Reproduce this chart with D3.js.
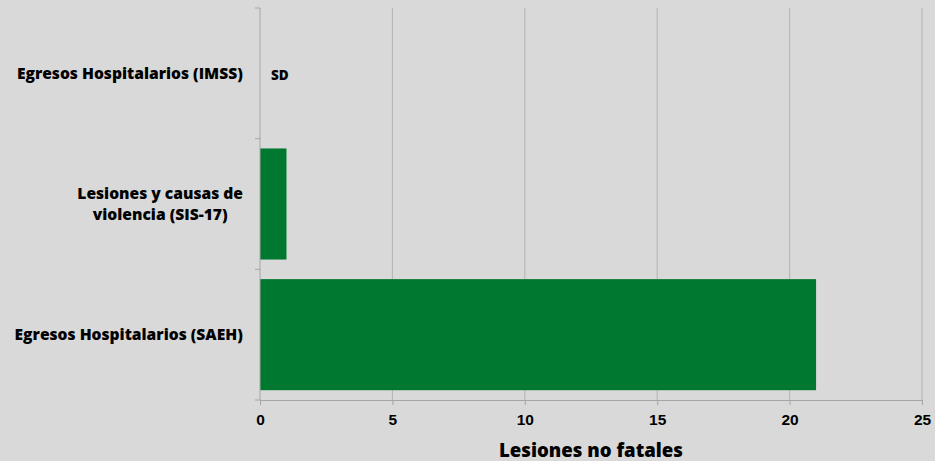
<!DOCTYPE html>
<html>
<head>
<meta charset="utf-8">
<script src="https://cdn.jsdelivr.net/npm/d3@7"></script>
<style>
  html, body { margin: 0; padding: 0; background: #d9d9d9; }
  svg { display: block; font-family: "Open Sans", "Noto Sans", sans-serif; font-weight: 800; }
  .tick text { fill: #000; }
</style>
</head>
<body>
<div id="chart"></div>
<script>
const categories = [
  ['Egresos Hospitalarios (IMSS)'],
  ['Lesiones y causas de', 'violencia (SIS-17)'],
  ['Egresos Hospitalarios (SAEH)']
];
const values = [null, 1, 21];
const xTicks = [0, 5, 10, 15, 20, 25];
const missingLabel = 'SD';
const axisTitle = 'Lesiones no fatales';

const width = 935, height = 461;
const margin = { top: 8, right: 13, bottom: 61, left: 260 };

const svg = d3.select('#chart').append('svg')
  .attr('width', width).attr('height', height);

svg.append('rect').attr('width', width).attr('height', height).attr('fill', '#d9d9d9');

const x = d3.scaleLinear().domain([0, 25]).range([margin.left, width - margin.right]);
const y = d3.scaleBand().domain(d3.range(categories.length))
  .range([margin.top, height - margin.bottom])
  .paddingInner(0.15).paddingOuter(0.075);

// gridlines
svg.append('g')
  .selectAll('line').data(xTicks.filter(t => t > 0)).join('line')
  .attr('x1', d => x(d)).attr('x2', d => x(d))
  .attr('y1', margin.top).attr('y2', height - margin.bottom)
  .attr('stroke', '#b3b3b3').attr('stroke-width', 1);

// bars
svg.append('g')
  .selectAll('rect').data(values.map((v, i) => ({ v, i })).filter(d => d.v != null)).join('rect')
  .attr('x', x(0))
  .attr('y', d => y(d.i))
  .attr('width', d => x(d.v) - x(0))
  .attr('height', y.bandwidth())
  .attr('fill', '#00782f');

// missing data label
values.forEach((v, i) => {
  if (v == null) {
    svg.append('text')
      .attr('x', x(0) + 11).attr('y', y(i) + y.bandwidth() / 2 + 2)
      .attr('dy', '0.35em')
      .attr('font-size', 13.5)
      .text(missingLabel);
  }
});

// x axis
const xAxis = svg.append('g')
  .attr('transform', `translate(0,${height - margin.bottom})`)
  .call(d3.axisBottom(x).tickValues(xTicks).tickSize(5).tickPadding(9).tickSizeOuter(0));
xAxis.select('.domain').attr('stroke', '#a6a6a6');
xAxis.selectAll('.tick line').attr('stroke', '#a6a6a6');
xAxis.selectAll('.tick text').attr('font-size', 15.5).attr('font-family', null);

// y axis (category separators)
const yEdges = d3.range(categories.length + 1).map(i => margin.top + i * (height - margin.bottom - margin.top) / categories.length);
const yAxisG = svg.append('g');
yAxisG.append('line')
  .attr('x1', x(0)).attr('x2', x(0))
  .attr('y1', margin.top).attr('y2', height - margin.bottom)
  .attr('stroke', '#a6a6a6');
yAxisG.selectAll('line.sep').data(yEdges).join('line')
  .attr('class', 'sep')
  .attr('x1', x(0) - 5).attr('x2', x(0))
  .attr('y1', d => d).attr('y2', d => d)
  .attr('stroke', '#a6a6a6');

// category labels
const labelG = svg.append('g');
categories.forEach((lines, i) => {
  const cy = y(i) + y.bandwidth() / 2;
  const t = labelG.append('text')
    .attr('font-size', 15.6)
    .attr('text-anchor', 'middle');
  lines.forEach((line, j) => {
    t.append('tspan')
      .attr('x', 0)
      .attr('y', cy + (j - (lines.length - 1) / 2) * 21)
      .attr('dy', '0.35em')
      .text(line);
  });
});
// right-align each label block, lines centred within it
labelG.selectAll('text').each(function() {
  const el = d3.select(this);
  const bw = this.getBBox().width;
  el.selectAll('tspan').attr('x', x(0) - 17 - bw / 2);
});

// axis title
svg.append('text')
  .attr('x', (x(0) + x(25)) / 2)
  .attr('y', height - 4)
  .attr('text-anchor', 'middle')
  .attr('font-size', 18.6)
  .text(axisTitle);
</script>
</body>
</html>
